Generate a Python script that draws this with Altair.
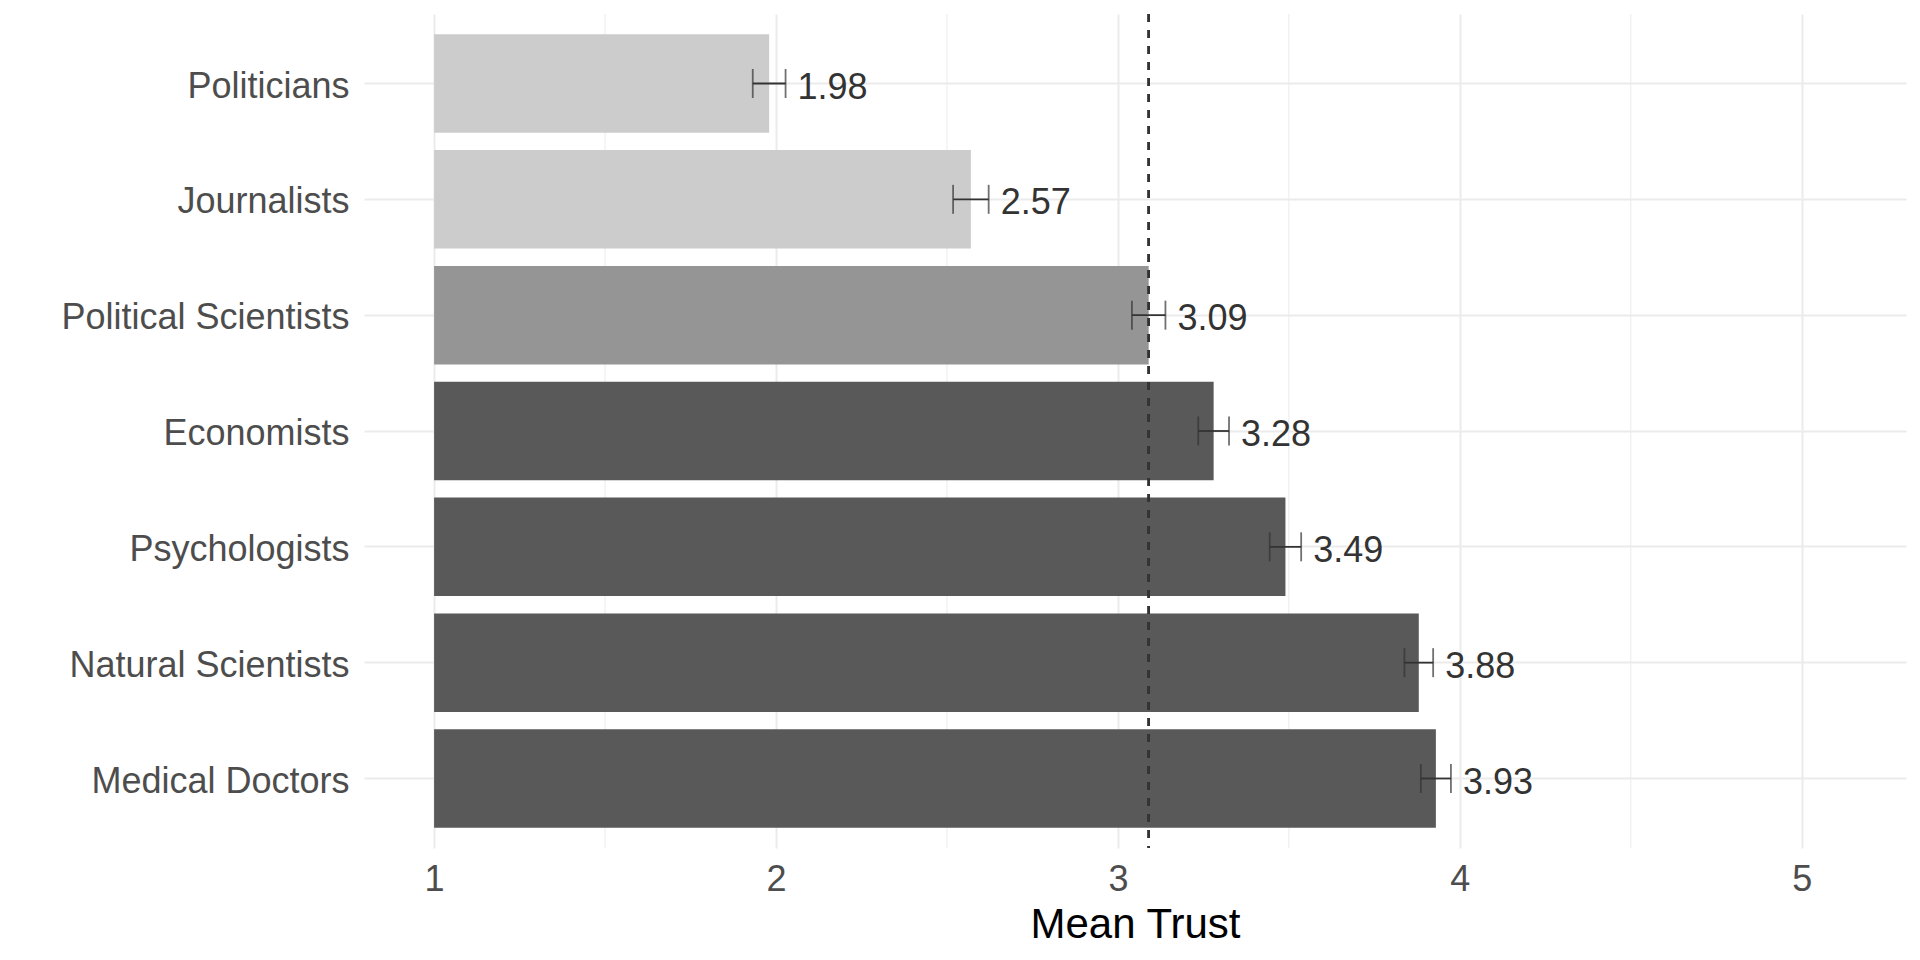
import altair as alt
import pandas as pd

categories = ["Politicians", "Journalists", "Political Scientists", "Economists",
              "Psychologists", "Natural Scientists", "Medical Doctors"]
means = [1.98, 2.57, 3.09, 3.28, 3.49, 3.88, 3.93]
ses = [0.048, 0.052, 0.049, 0.045, 0.046, 0.042, 0.044]
groups = ["low", "low", "mid", "high", "high", "high", "high"]
group_colors = ["#CCCCCC", "#959595", "#595959"]
major_ticks = [1, 2, 3, 4, 5]
minor_ticks = [1.5, 2.5, 3.5, 4.5]
ref_value = means[categories.index("Political Scientists")]

df = pd.DataFrame({"cat": categories, "mean": means, "se": ses, "grp": groups})
df["lo"] = df["mean"] - df["se"]
df["hi"] = df["mean"] + df["se"]
df["label"] = df["mean"].map(lambda v: f"{v:.2f}")
minor_df = pd.DataFrame({"m": minor_ticks})

FONT = "Liberation Sans"
xscale = alt.Scale(domain=[0.795, 5.305], nice=False, zero=False)
yscale = alt.Scale(domain=categories, paddingInner=0.15, paddingOuter=0.175)

xaxis = alt.Axis(values=major_ticks, domain=False, ticks=False, labelPadding=14,
                 labelFontSize=36, labelColor="#4D4D4D", labelFont=FONT,
                 title="Mean Trust", titleFontSize=42, titleColor="#000000",
                 titleFont=FONT, titleFontWeight="normal", titleY=89,
                 titleBaseline="alphabetic", grid=True, gridColor="#EBEBEB",
                 gridWidth=2, format="d")
yaxis = alt.Axis(domain=False, ticks=False, labelPadding=15, labelFontSize=36,
                 labelColor="#4D4D4D", labelFont=FONT, labelLimit=0, title=None, grid=True,
                 gridColor="#EBEBEB", gridWidth=2, bandPosition=0.5, labelOffset=3)

base = alt.Chart(df)

minor = alt.Chart(minor_df).mark_rule(color="#EBEBEB", strokeWidth=1).encode(
    x=alt.X("m:Q", scale=xscale, axis=xaxis)
)

bars = base.mark_bar().encode(
    y=alt.Y("cat:N", scale=yscale, axis=yaxis, sort=categories),
    x=alt.X("mean:Q", scale=xscale, axis=xaxis),
    x2=alt.datum(1),
    color=alt.Color("grp:N", scale=alt.Scale(domain=["low", "mid", "high"], range=group_colors), legend=None),
)

refline = alt.Chart(df).mark_rule(color="#333333", strokeWidth=1.8, strokeDash=[8, 8]).encode(
    x=alt.datum(ref_value)
)

err = base.mark_rule(color="#333333", strokeWidth=1.8).encode(
    y=alt.Y("cat:N", sort=categories),
    x=alt.X("lo:Q"),
    x2="hi:Q",
)
cap_lo = base.mark_tick(color="#333333", thickness=1.8, size=29).encode(
    y=alt.Y("cat:N", sort=categories), x=alt.X("lo:Q")
)
cap_hi = base.mark_tick(color="#333333", thickness=1.8, size=29).encode(
    y=alt.Y("cat:N", sort=categories), x=alt.X("hi:Q")
)
labels = base.mark_text(align="left", baseline="middle", dx=12, dy=4, fontSize=36,
                        font=FONT, color="#333333").encode(
    y=alt.Y("cat:N", sort=categories), x=alt.X("hi:Q"), text="label:N"
)

chart = alt.layer(minor, bars, refline, err, cap_lo, cap_hi, labels).properties(
    width=1542, height=834,
    autosize=alt.AutoSizeParams(type="none"),
    padding={"left": 356, "top": 6, "right": 6, "bottom": 100},
).configure_view(strokeWidth=0)

chart.save("out.html", embed_options={"renderer": "svg", "actions": False})
